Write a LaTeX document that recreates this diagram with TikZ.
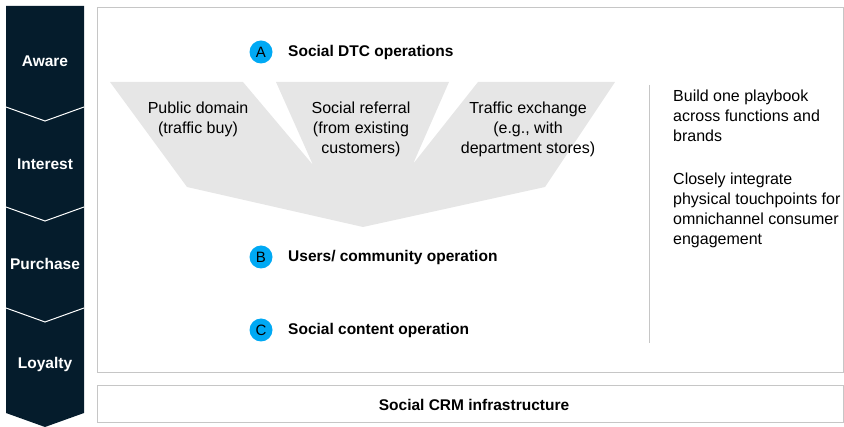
\documentclass[tikz,border=0pt]{standalone}
\usepackage{fontspec}
\setmainfont{Liberation Sans}
\definecolor{navy}{HTML}{051C2C}
\definecolor{cyanA}{HTML}{00A9F4}
\definecolor{funnelgrey}{HTML}{E6E6E6}
\definecolor{boxgrey}{HTML}{C6C6C6}
\tikzset{
  stagelabel/.style={text=white, font=\fontsize{15.5}{17}\selectfont\bfseries},
  badge/.style={circle, fill=cyanA, minimum size=23pt, inner sep=0pt, font=\fontsize{15}{17}\selectfont},
  heading/.style={anchor=west, font=\fontsize{15.5}{17}\selectfont\bfseries, inner sep=0pt},
  funneltext/.style={align=center, font=\fontsize{16}{20}\selectfont, inner sep=0pt},
  sidetext/.style={align=left, anchor=north west, font=\fontsize{16}{20}\selectfont, inner sep=0pt},
  frame/.style={draw=boxgrey, line width=1pt},
  divider/.style={draw=white, line width=1pt}
}
\begin{document}
\begin{tikzpicture}[x=1pt,y=-1pt]
\useasboundingbox (0,0) rectangle (844,427);
% left stage band
\fill[navy] (6,6) -- (84,6) -- (84,413) -- (45,427) -- (6,413) -- cycle;
\coordinate (d1l) at (6,107); \coordinate (d1c) at (45,121); \coordinate (d1r) at (84,107);
\coordinate (d2l) at (6,207); \coordinate (d2c) at (45,221); \coordinate (d2r) at (84,207);
\coordinate (d3l) at (6,308); \coordinate (d3c) at (45,322); \coordinate (d3r) at (84,308);
\draw[divider] (d1l) -- (d1c) -- (d1r);
\draw[divider] (d2l) -- (d2c) -- (d2r);
\draw[divider] (d3l) -- (d3c) -- (d3r);
\node[stagelabel] (aware) at (45,61) {Aware};
\node[stagelabel] (interest) at (45,164) {Interest};
\node[stagelabel] (purchase) at (45,264) {Purchase};
\node[stagelabel] (loyalty) at (45,364) {Loyalty};
% frames
\draw[frame] (97,8) rectangle (843,373);
\draw[frame] (97,386) rectangle (843,423);
\node[font=\fontsize{15.5}{17}\selectfont\bfseries] (crm) at (474,405) {Social CRM infrastructure};
% funnel
\fill[funnelgrey] (110,82) -- (243,82) -- (313,165) -- (276,82) -- (449,82) -- (413,164) -- (478,82) -- (615,82) -- (545,187) -- (363,227) -- (187,187) -- cycle;
\node[funneltext, anchor=north] (pub) at (198,102) {Public domain\\(traffic buy)};
\node[funneltext, anchor=north] (ref) at (361,102) {Social referral\\(from existing\\customers)};
\node[funneltext, anchor=north] (exc) at (528,102) {Traffic exchange\\(e.g., with\\department stores)};
% badges and headings
\node[badge] (A) at (261,52) {A};
\node[heading] (Atext) at (288,52) {Social DTC operations};
\node[badge] (B) at (261,257) {B};
\node[heading] (Btext) at (288,257) {Users/ community operation};
\node[badge] (C) at (261,330) {C};
\node[heading] (Ctext) at (288,330) {Social content operation};
% right side
\coordinate (vt) at (649,85); \coordinate (vb) at (649,343);
\draw[draw=boxgrey, line width=1pt] (vt) -- (vb);
\node[sidetext] (s1) at (673,90) {Build one playbook\\across functions and\\brands};
\node[sidetext] (s2) at (673,173) {Closely integrate\\physical touchpoints for\\omnichannel consumer\\engagement};
\end{tikzpicture}
\end{document}
